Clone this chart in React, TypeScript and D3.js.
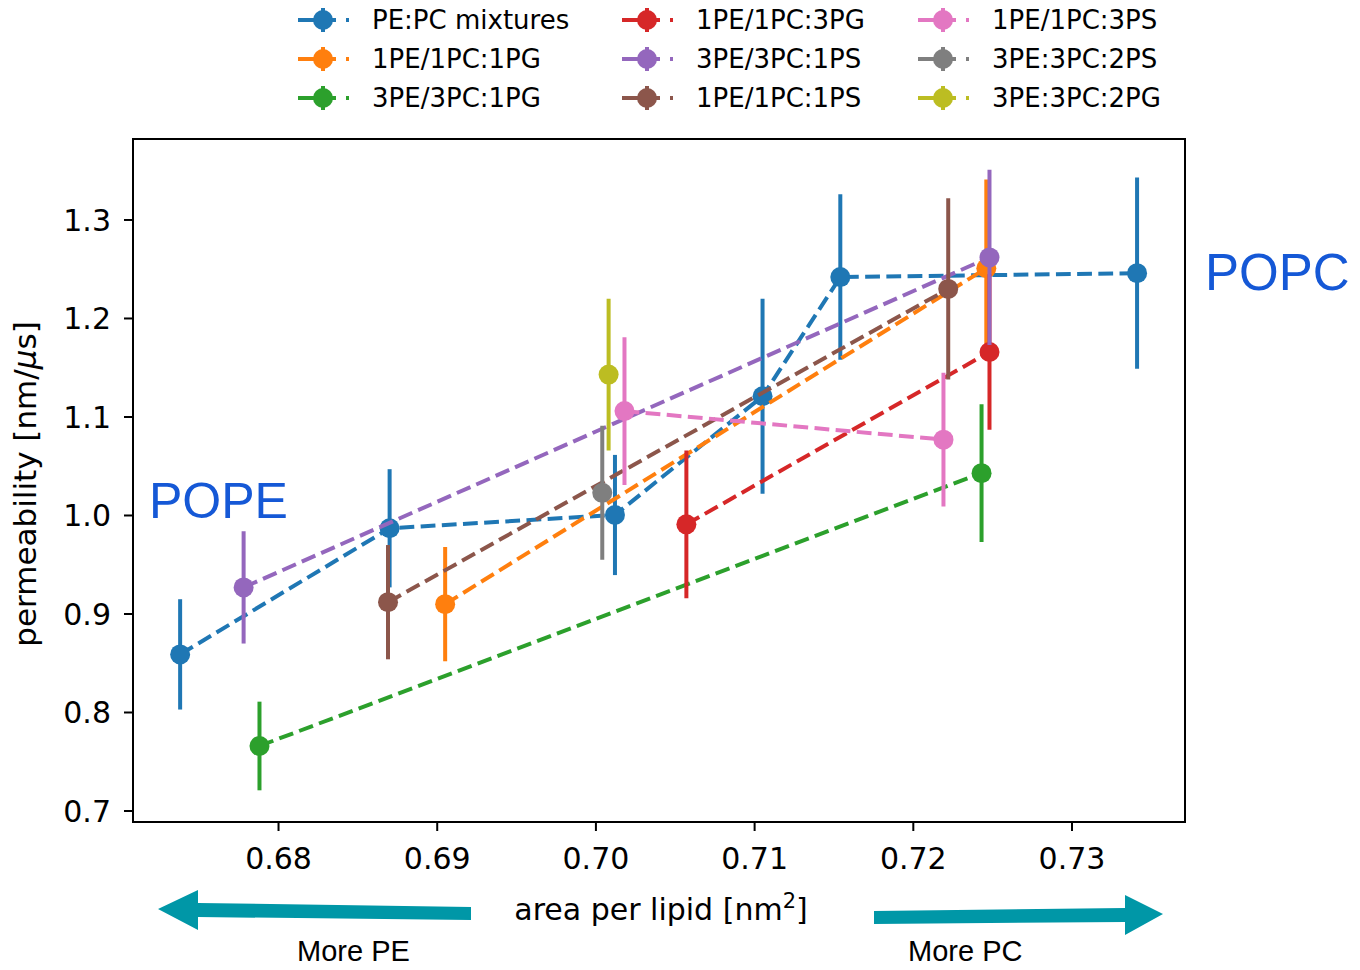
import React from "react";
import * as d3 from "d3";

// series labels and colours (matplotlib tab10)
const seriesNames = [
  "PE:PC mixtures",
  "1PE/1PC:1PG",
  "3PE/3PC:1PG",
  "1PE/1PC:3PG",
  "3PE/3PC:1PS",
  "1PE/1PC:1PS",
  "1PE/1PC:3PS",
  "3PE:3PC:2PS",
  "3PE:3PC:2PG",
];
const seriesColors = [
  "#1f77b4", "#ff7f0e", "#2ca02c", "#d62728", "#9467bd",
  "#8c564b", "#e377c2", "#7f7f7f", "#bcbd22",
];

// area per lipid, permeability, error
const pePcX = [0.6738, 0.687, 0.7012, 0.7105, 0.7154, 0.7341];
const pePcY = [0.859, 0.987, 1.0005, 1.121, 1.242, 1.246];
const pePcErr = [0.056, 0.06, 0.061, 0.099, 0.084, 0.097];

const pg11X = [0.6905, 0.7246];
const pg11Y = [0.910, 1.251];
const pg11Err = [0.058, 0.09];

const pg331X = [0.6788, 0.7243];
const pg331Y = [0.766, 1.043];
const pg331Err = [0.045, 0.07];

const pg113X = [0.7057, 0.7248];
const pg113Y = [0.991, 1.166];
const pg113Err = [0.075, 0.079];

const ps331X = [0.6778, 0.7248];
const ps331Y = [0.927, 1.262];
const ps331Err = [0.057, 0.089];

const ps111X = [0.6869, 0.7222];
const ps111Y = [0.912, 1.23];
const ps111Err = [0.058, 0.092];

const ps113X = [0.7018, 0.7219];
const ps113Y = [1.106, 1.077];
const ps113Err = [0.075, 0.068];

const ps332X = [0.7004];
const ps332Y = [1.023];
const ps332Err = [0.068];

const pg332X = [0.7008];
const pg332Y = [1.143];
const pg332Err = [0.077];

const xTicks = [0.68, 0.69, 0.7, 0.71, 0.72, 0.73];
const yTicks = [0.7, 0.8, 0.9, 1.0, 1.1, 1.2, 1.3];

const allX = [pePcX, pg11X, pg331X, pg113X, ps331X, ps111X, ps113X, ps332X, pg332X];
const allY = [pePcY, pg11Y, pg331Y, pg113Y, ps331Y, ps111Y, ps113Y, ps332Y, pg332Y];
const allErr = [pePcErr, pg11Err, pg331Err, pg113Err, ps331Err, ps111Err, ps113Err, ps332Err, pg332Err];

const W = 1360;
const H = 970;
const left = 133, right = 1185, top = 139, bottom = 822;
const font = "'DejaVu Sans', sans-serif";
const LW = 4;
const DASH = "14.8 6.4";
const R = 10;

export default function App() {
  const x = d3.scaleLinear().domain([0.67083, 0.73712]).range([left, right]);
  const y = d3.scaleLinear().domain([0.68883, 1.3822]).range([bottom, top]);
  const line = d3.line<[number, number]>().x((d) => x(d[0])).y((d) => y(d[1]));

  const series = seriesNames.map((name, i) => ({
    name,
    color: seriesColors[i],
    pts: allX[i].map((v, j) => ({ x: v, y: allY[i][j], e: allErr[i][j] })),
  }));

  // legend layout
  const legCols = [298, 622, 918];
  const legRows = [20, 59, 98];

  return (
    <svg
      width={W}
      height={H}
      style={{ position: "absolute", left: 0, top: 0, background: "#fff" }}
    >
      <rect x={0} y={0} width={W} height={H} fill="#fff" />

      {/* data */}
      <g>
        {series.map((s) => (
          <g key={s.name}>
            {s.pts.length > 1 && (
              <path
                d={line(s.pts.map((p) => [p.x, p.y] as [number, number])) || ""}
                fill="none"
                stroke={s.color}
                strokeWidth={LW}
                strokeDasharray={DASH}
              />
            )}
            {s.pts.map((p, j) => (
              <line
                key={"e" + j}
                x1={x(p.x)}
                x2={x(p.x)}
                y1={y(p.y - p.e)}
                y2={y(p.y + p.e)}
                stroke={s.color}
                strokeWidth={LW}
              />
            ))}
            {s.pts.map((p, j) => (
              <circle key={"c" + j} cx={x(p.x)} cy={y(p.y)} r={R} fill={s.color} />
            ))}
          </g>
        ))}
      </g>

      {/* frame */}
      <rect
        x={left}
        y={top}
        width={right - left}
        height={bottom - top}
        fill="none"
        stroke="#000"
        strokeWidth={2}
      />

      {/* x axis */}
      {xTicks.map((t) => (
        <g key={"x" + t}>
          <line x1={x(t)} x2={x(t)} y1={bottom} y2={bottom + 9} stroke="#000" strokeWidth={2} />
          <text
            x={x(t)}
            y={869}
            textAnchor="middle"
            fontFamily={font}
            fontSize={30}
            fill="#000"
          >
            {t.toFixed(2)}
          </text>
        </g>
      ))}

      {/* y axis */}
      {yTicks.map((t) => (
        <g key={"y" + t}>
          <line x1={left - 9} x2={left} y1={y(t)} y2={y(t)} stroke="#000" strokeWidth={2} />
          <text
            x={111}
            y={y(t) + 11}
            textAnchor="end"
            fontFamily={font}
            fontSize={30}
            fill="#000"
          >
            {t.toFixed(1)}
          </text>
        </g>
      ))}

      <text
        transform={`translate(36,484) rotate(-90)`}
        textAnchor="middle"
        fontFamily={font}
        fontSize={31}
        fill="#000"
      >
        permeability [nm/<tspan fontStyle="italic">μ</tspan>s]
      </text>

      <text x={661} y={920} textAnchor="middle" fontFamily={font} fontSize={30} fill="#000">
        area per lipid [nm<tspan dy={-12} fontSize={21}>2</tspan>
        <tspan dy={12}>]</tspan>
      </text>

      {/* annotations */}
      <text x={149} y={518} fontFamily="'Liberation Sans', Arial, sans-serif" fontSize={50} fill="#1558d6">
        POPE
      </text>
      <text x={1205} y={290} fontFamily="'Liberation Sans', Arial, sans-serif" fontSize={51} fill="#1558d6">
        POPC
      </text>

      <path
        d="M471,907 L198,903 L198,890 L158,909 L198,930 L198,917 L471,920 Z"
        fill="#0097a7"
      />
      <path
        d="M874,911 L1125,908 L1125,895 L1163,914 L1125,935 L1125,922 L874,924 Z"
        fill="#0097a7"
      />
      <text x={297} y={961} fontFamily="'Liberation Sans', Arial, sans-serif" fontSize={29} fill="#000">
        More PE
      </text>
      <text x={908} y={961} fontFamily="'Liberation Sans', Arial, sans-serif" fontSize={29} fill="#000">
        More PC
      </text>

      {/* legend */}
      {series.map((s, i) => {
        const col = Math.floor(i / 3);
        const row = i % 3;
        const lx = legCols[col];
        const ly = legRows[row];
        return (
          <g key={"l" + s.name}>
            <line
              x1={lx}
              x2={lx + 52}
              y1={ly}
              y2={ly}
              stroke={s.color}
              strokeWidth={LW}
              strokeDasharray="38 10 3 100"
            />
            <line x1={lx + 25} x2={lx + 25} y1={ly - 12} y2={ly + 12} stroke={s.color} strokeWidth={LW} />
            <circle cx={lx + 25} cy={ly} r={R} fill={s.color} />
            <text x={lx + 74} y={ly + 9} fontFamily={font} fontSize={26} fill="#000">
              {s.name}
            </text>
          </g>
        );
      })}
    </svg>
  );
}
